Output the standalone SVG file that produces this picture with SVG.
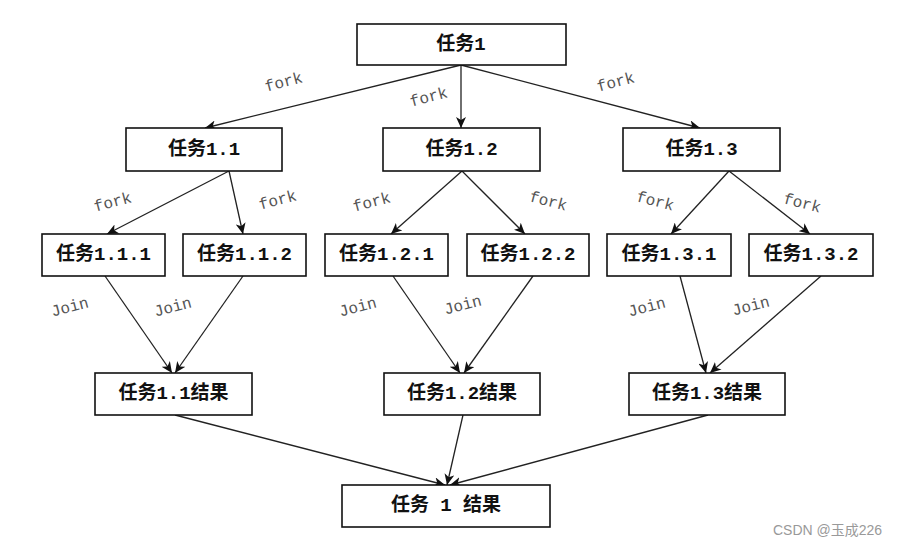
<svg xmlns="http://www.w3.org/2000/svg" width="900" height="547" viewBox="0 0 900 547">
<defs>
<marker id="ah" markerWidth="12" markerHeight="10" refX="11" refY="5" orient="auto" markerUnits="userSpaceOnUse">
<path d="M0,0 L11,5 L0,10 L3,5 Z" fill="#111"/>
</marker>
<style>
.box{fill:#fff;stroke:#111;stroke-width:1.6}
.lbl{font-family:"Liberation Mono","Noto Sans CJK SC",monospace;font-weight:bold;font-size:19px;fill:#111;text-anchor:middle;dominant-baseline:central}
.edge{stroke:#222;stroke-width:1.3;fill:none;marker-end:url(#ah)}
.el{font-family:"Liberation Mono","Courier New",monospace;font-size:16px;fill:#555;text-anchor:middle;dominant-baseline:central}
.wm{font-family:"Liberation Sans","Noto Sans CJK SC",sans-serif;font-size:14px;fill:#999}
</style>
</defs>
<rect width="900" height="547" fill="#fff"/>
<g id="connectors">
<line class="edge" x1="461" y1="65" x2="205" y2="128"/>
<line class="edge" x1="461" y1="65" x2="461" y2="128"/>
<line class="edge" x1="461" y1="65" x2="700" y2="128"/>
<line class="edge" x1="229" y1="171" x2="107" y2="234"/>
<line class="edge" x1="229" y1="171" x2="243" y2="234"/>
<line class="edge" x1="462" y1="171" x2="391" y2="234"/>
<line class="edge" x1="462" y1="171" x2="525" y2="234"/>
<line class="edge" x1="729" y1="171" x2="671" y2="234"/>
<line class="edge" x1="729" y1="171" x2="810" y2="234"/>
<line class="edge" x1="105" y1="276" x2="172" y2="373"/>
<line class="edge" x1="243" y1="276" x2="175" y2="373"/>
<line class="edge" x1="393" y1="276" x2="460" y2="373"/>
<line class="edge" x1="533" y1="276" x2="464" y2="373"/>
<line class="edge" x1="680" y1="276" x2="706" y2="373"/>
<line class="edge" x1="821" y1="276" x2="710" y2="373"/>
<line class="edge" x1="175" y1="415" x2="445" y2="485"/>
<line class="edge" x1="463" y1="415" x2="447" y2="485"/>
<line class="edge" x1="708" y1="415" x2="450" y2="485"/>
<text class="el" transform="translate(284,83) rotate(-15)">fork</text>
<text class="el" transform="translate(429,98) rotate(-15)">fork</text>
<text class="el" transform="translate(616,83) rotate(-15)">fork</text>
<text class="el" transform="translate(113,203) rotate(-15)">fork</text>
<text class="el" transform="translate(278,201) rotate(-15)">fork</text>
<text class="el" transform="translate(372,203) rotate(-15)">fork</text>
<text class="el" transform="translate(548,202) rotate(15)">fork</text>
<text class="el" transform="translate(655,202) rotate(15)">fork</text>
<text class="el" transform="translate(802,204) rotate(15)">fork</text>
<text class="el" transform="translate(70,308) rotate(-15)">Join</text>
<text class="el" transform="translate(173,308) rotate(-15)">Join</text>
<text class="el" transform="translate(358,308) rotate(-15)">Join</text>
<text class="el" transform="translate(463,306) rotate(-15)">Join</text>
<text class="el" transform="translate(647,308) rotate(-15)">Join</text>
<text class="el" transform="translate(751,307) rotate(-15)">Join</text>
</g>
<g id="n1"><rect class="box" x="357" y="24" width="209" height="41"/><text class="lbl" x="461" y="44.5">任务1</text></g>
<g id="n11"><rect class="box" x="126" y="128" width="156" height="43"/><text class="lbl" x="204" y="149.5">任务1.1</text></g>
<g id="n12"><rect class="box" x="383" y="128" width="157" height="43"/><text class="lbl" x="461.5" y="149.5">任务1.2</text></g>
<g id="n13"><rect class="box" x="623" y="128" width="157" height="43"/><text class="lbl" x="701.5" y="149.5">任务1.3</text></g>
<g id="n111"><rect class="box" x="42" y="234" width="123" height="42"/><text class="lbl" x="103.5" y="255">任务1.1.1</text></g>
<g id="n112"><rect class="box" x="183" y="234" width="123" height="42"/><text class="lbl" x="244.5" y="255">任务1.1.2</text></g>
<g id="n121"><rect class="box" x="325" y="234" width="123" height="42"/><text class="lbl" x="386.5" y="255">任务1.2.1</text></g>
<g id="n122"><rect class="box" x="467" y="234" width="122" height="42"/><text class="lbl" x="528" y="255">任务1.2.2</text></g>
<g id="n131"><rect class="box" x="607" y="234" width="124" height="42"/><text class="lbl" x="669" y="255">任务1.3.1</text></g>
<g id="n132"><rect class="box" x="749" y="234" width="124" height="42"/><text class="lbl" x="811" y="255">任务1.3.2</text></g>
<g id="r11"><rect class="box" x="95" y="373" width="157" height="42"/><text class="lbl" x="173.5" y="394">任务1.1结果</text></g>
<g id="r12"><rect class="box" x="384" y="373" width="156" height="42"/><text class="lbl" x="462" y="394">任务1.2结果</text></g>
<g id="r13"><rect class="box" x="629" y="373" width="156" height="42"/><text class="lbl" x="707" y="394">任务1.3结果</text></g>
<g id="r1"><rect class="box" x="342" y="485" width="208" height="42"/><text class="lbl" x="446" y="506">任务 1 结果</text></g>
<text class="wm" x="773" y="535">CSDN @玉成226</text>
</svg>
